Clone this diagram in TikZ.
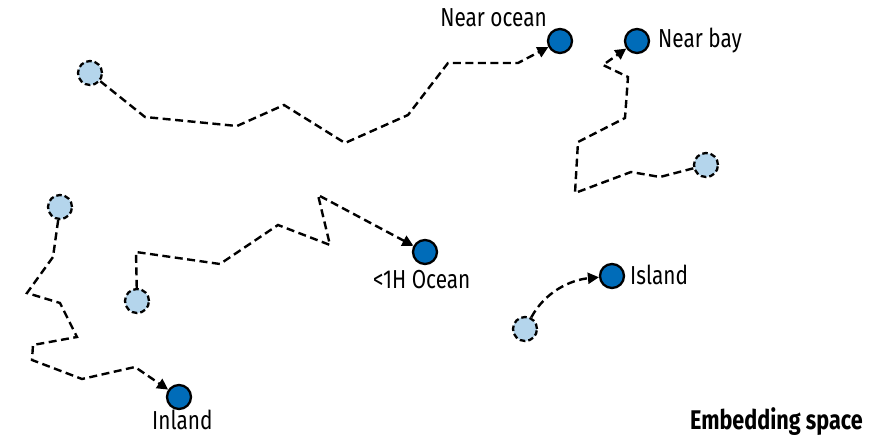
\documentclass[tikz,border=0pt]{standalone}
\usepackage{fontspec}
\setmainfont{Fira Sans}[FakeStretch=0.8]
\usetikzlibrary{arrows.meta}
\definecolor{darkblue}{RGB}{0,108,185}
\definecolor{lightblue}{RGB}{180,213,236}
\begin{document}
\begin{tikzpicture}[x=1pt,y=-1pt,
  dark/.style={circle, draw=black, line width=2.3pt, fill=darkblue, minimum size=24pt, inner sep=0pt},
  light/.style={circle, draw=black, line width=2.3pt, dash pattern=on 5.5pt off 3pt, fill=lightblue, minimum size=24pt, inner sep=0pt},
  walk/.style={draw, line width=2.4pt, dash pattern=on 8pt off 4.5pt, -{Triangle[length=11pt,width=11pt]}},
  lbl/.style={inner sep=0pt, font=\fontsize{26}{30}\selectfont},
  title/.style={inner sep=0pt, font=\fontsize{27}{30}\selectfont\bfseries}]
\useasboundingbox (0,0) rectangle (892,446);
% nodes
\node[light] (s1) at (90,73) {};
\node[light] (s2) at (706,165) {};
\node[light] (s3) at (60,207) {};
\node[light] (s4) at (137,301) {};
\node[light] (s5) at (525,329) {};
\node[dark] (nearocean) at (560,41) {};
\node[dark] (nearbay) at (637,41) {};
\node[dark] (oneh) at (425,252) {};
\node[dark] (island) at (612,276) {};
\node[dark] (inland) at (179,397) {};
% labels
\node[lbl, anchor=base east] (lnearocean) at (547,27) {Near ocean};
\node[lbl, anchor=base west] (lnearbay) at (658,48) {Near bay};
\node[lbl, anchor=base west] (loneh) at (373,289) {<1H Ocean};
\node[lbl, anchor=base west] (lisland) at (630,285) {Island};
\node[lbl, anchor=base west] (linland) at (152,429) {Inland};
\node[title, anchor=base west] (ltitle) at (690,429) {Embedding space};
% walks
\draw[walk] (s1) -- (145,117) -- (237,126) -- (284,105) -- (345,143) -- (408,115) -- (448,63) -- (518,63) -- (nearocean);
\draw[walk] (s2) -- (660,177) -- (631,172) -- (575,193) -- (578,142) -- (625,118) -- (628,77) -- (603,65) -- (nearbay);
\draw[walk] (s3) -- (53,257) -- (27,293) -- (60,303) -- (77,337) -- (33,345) -- (32,360) -- (82,379) -- (135,367) -- (inland);
\draw[walk] (s4) -- (136,252) -- (220,264) -- (278,225) -- (330,245) -- (318,195) -- (oneh);
\draw[walk] (s5) .. controls (545,292) and (570,280) .. (island);
\end{tikzpicture}
\end{document}
